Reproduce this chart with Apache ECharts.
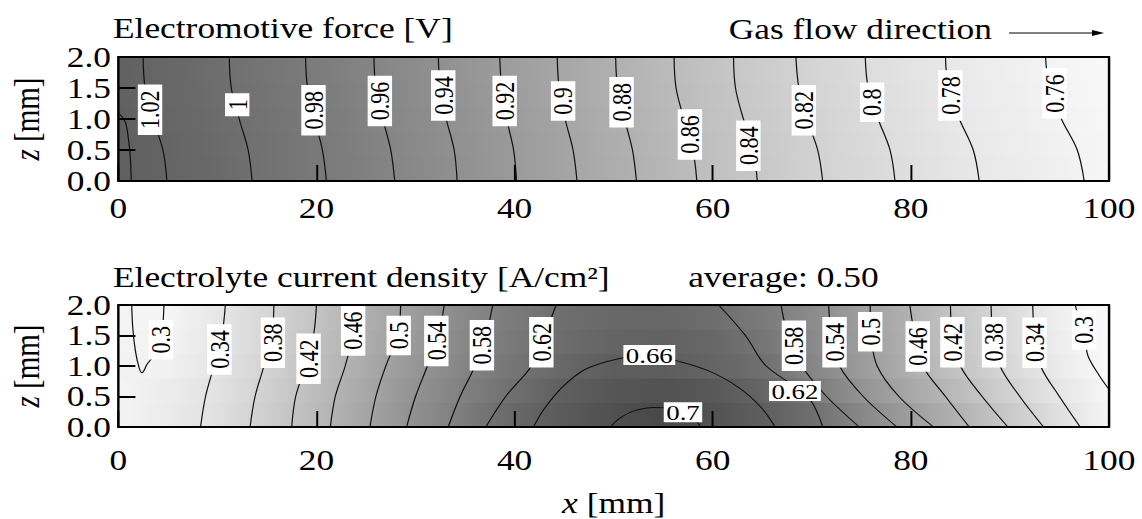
<!DOCTYPE html>
<html>
<head>
<meta charset="utf-8">
<title>Electromotive force and electrolyte current density</title>
<script src="https://cdn.jsdelivr.net/npm/echarts/dist/echarts.min.js"></script>
<style>
  html, body { margin: 0; padding: 0; background: #fff; overflow: hidden; }
  /* the figure is laid out at 936px and widened to 1142px, like the printed plot */
  #chart { width: 936px; height: 519px; transform: scale(1.22009, 1); transform-origin: 0 0; }
</style>
</head>
<body>
<div id="chart"></div>
<script>
// ---------- Electromotive force [V] (upper panel) ----------
const emfLevels = [1.02, 1.00, 0.98, 0.96, 0.94, 0.92, 0.90, 0.88, 0.86, 0.84, 0.82, 0.80, 0.78, 0.76];
const emfZ = [0, 0.5, 1.0, 1.5, 2.0];            // z [mm] where each contour's x is given
const emfX = [                                     // x [mm] of each contour at emfZ
  [4.9, 4.5, 3.5, 2.7, 2.5],
  [13.5, 13.1, 12.2, 11.4, 11.2],
  [21.0, 20.6, 19.8, 19.1, 18.9],
  [27.9, 27.5, 26.7, 26.0, 25.8],
  [34.2, 33.9, 33.1, 32.5, 32.3],
  [40.2, 39.9, 39.2, 38.7, 38.5],
  [46.3, 45.9, 45.1, 44.5, 44.3],
  [52.3, 51.9, 51.1, 50.4, 50.2],
  [58.4, 58.0, 57.1, 56.3, 56.1],
  [64.5, 64.1, 63.1, 62.3, 62.1],
  [71.1, 70.6, 69.5, 68.7, 68.4],
  [78.4, 77.9, 76.7, 75.7, 75.4],
  [86.9, 86.3, 84.9, 83.8, 83.5],
  [97.5, 96.8, 95.2, 94.0, 93.6]
];
const emfInletLevel = 1.04;                        // short contour at the inlet corner
const emfInlet = [[0, 1.1], [0.7, 0.95], [1.0, 0.7], [1.2, 0.4], [1.3, 0]];
const emfLabelAt = [                               // [x, z] of each contour label
  [3.2, 1.15], [12.0, 1.23], [19.7, 1.14], [26.4, 1.29], [32.8, 1.38], [39.0, 1.29], [44.9, 1.29],
  [50.8, 1.27], [57.7, 0.75], [63.6, 0.57], [69.2, 1.14], [76.1, 1.27], [84.0, 1.38], [94.5, 1.41]
];
// field used for the grey shading
const emfFieldX = [0, 5, 10, 15, 20, 25, 30, 35, 40, 45, 50, 55, 60, 65, 70, 75, 80, 85, 90, 95, 100];
const emfFieldZ = [0.2, 0.6, 1.0, 1.4, 1.8];
const emfField = [
  [1.042, 1.021, 1.009, 0.996, 0.983, 0.969, 0.953, 0.938, 0.921, 0.904, 0.887, 0.870, 0.853, 0.837, 0.822, 0.808, 0.795, 0.783, 0.773, 0.764, 0.754],
  [1.036, 1.020, 1.008, 0.995, 0.982, 0.968, 0.952, 0.937, 0.920, 0.903, 0.886, 0.869, 0.852, 0.836, 0.821, 0.807, 0.794, 0.782, 0.772, 0.763, 0.753],
  [1.030, 1.018, 1.006, 0.993, 0.980, 0.966, 0.950, 0.935, 0.918, 0.901, 0.884, 0.867, 0.850, 0.834, 0.819, 0.805, 0.792, 0.780, 0.770, 0.761, 0.751],
  [1.027, 1.016, 1.004, 0.991, 0.978, 0.964, 0.948, 0.933, 0.916, 0.899, 0.882, 0.865, 0.848, 0.832, 0.817, 0.803, 0.790, 0.778, 0.768, 0.759, 0.749],
  [1.026, 1.015, 1.003, 0.990, 0.977, 0.963, 0.947, 0.932, 0.915, 0.898, 0.881, 0.864, 0.847, 0.831, 0.816, 0.802, 0.789, 0.777, 0.767, 0.758, 0.748]
];

// ---------- Electrolyte current density [A/cm2] (lower panel) ----------
const jLevels = [0.34, 0.38, 0.42, 0.46, 0.50, 0.54, 0.58, 0.62,   // rising side
                 0.62, 0.58, 0.54, 0.50, 0.46, 0.42, 0.38, 0.34];  // falling side
const jZ = [0, 0.5, 1.0, 1.5, 2.0];
const jX = [
  [8.3, 8.8, 9.65, 10.45, 10.8],
  [13.3, 13.8, 14.7, 15.5, 15.7],
  [17.5, 17.9, 18.9, 19.7, 20.0],
  [21.4, 21.9, 22.9, 23.65, 24.0],
  [25.4, 26.0, 27.0, 28.2, 28.5],
  [29.1, 30.0, 31.2, 32.3, 32.9],
  [33.3, 34.5, 36.0, 37.1, 37.8],
  [37.1, 39.1, 41.7, 43.0, 44.2],
  [71.1, 69.6, 65.4, 63.3, 60.6],
  [74.8, 71.5, 69.0, 67.6, 66.9],
  [78.6, 75.2, 72.8, 72.0, 71.7],
  [82.3, 78.8, 76.6, 76.0, 75.9],
  [85.9, 83.5, 81.2, 80.4, 79.9],
  [89.8, 87.2, 85.0, 84.2, 84.0],
  [93.4, 91.0, 89.0, 88.3, 88.1],
  [97.1, 95.0, 93.1, 92.5, 92.3]
];
const jLabelAt = [                                 // [x, z, upright]
  [10.2, 1.27, 1], [15.6, 1.38, 1], [19.2, 1.12, 1], [23.7, 1.58, 1], [28.3, 1.50, 1], [32.1, 1.41, 1], [36.7, 1.34, 1], [42.7, 1.39, 1],
  [68.3, 0.59, 0], [68.2, 1.33, 1], [72.3, 1.39, 1], [75.9, 1.56, 1], [80.7, 1.32, 1], [84.2, 1.39, 1], [88.4, 1.39, 1], [92.5, 1.38, 1]
];
// closed / bent contours, as [x, z] points
const jInletLevel = 0.30;
const jInlet = [[1.35, 2.0], [1.46, 1.62], [1.73, 1.24], [2.1, 0.97], [2.4, 0.89], [2.9, 1.03], [3.5, 1.16], [4.3, 1.43], [4.5, 1.68], [4.6, 2.0]];
const jInletLabel = [4.3, 1.43, 1];
const jOutletLevel = 0.30;
const jOutlet = [[96.6, 2.0], [97.0, 1.75], [97.5, 1.5], [97.9, 1.16], [99.0, 0.85], [100, 0.62]];
const jOutletLabel = [97.5, 1.59, 1];
const jPeak1Level = 0.66;
const jPeak1 = [[41.9, 0], [43.0, 0.3], [44.8, 0.65], [47.2, 0.95], [50.5, 1.12], [53.6, 1.18], [56.5, 1.08], [59.6, 0.92], [62.6, 0.65], [64.9, 0.32], [66.3, 0]];
const jPeak1Label = [53.6, 1.18, 0];
const jPeak2Level = 0.70;
const jPeak2 = [[49.7, 0], [50.6, 0.14], [52.0, 0.26], [54.0, 0.32], [56.0, 0.30], [57.8, 0.18], [58.8, 0]];
const jPeak2Label = [57.0, 0.24, 0];
// field used for the grey shading
const jFieldX = [0, 5, 10, 15, 20, 25, 30, 35, 40, 45, 50, 55, 60, 65, 70, 75, 80, 85, 90, 95, 100];
const jFieldZ = [0.2, 0.6, 1.0, 1.4, 1.8];
const jField = [
  [0.305, 0.326, 0.352, 0.394, 0.444, 0.494, 0.545, 0.592, 0.638, 0.671, 0.695, 0.715, 0.688, 0.663, 0.624, 0.564, 0.510, 0.459, 0.407, 0.353, 0.303],
  [0.305, 0.324, 0.348, 0.390, 0.439, 0.488, 0.538, 0.582, 0.623, 0.663, 0.682, 0.690, 0.676, 0.646, 0.598, 0.537, 0.486, 0.439, 0.386, 0.337, 0.300],
  [0.310, 0.312, 0.343, 0.383, 0.431, 0.480, 0.529, 0.572, 0.608, 0.640, 0.664, 0.665, 0.648, 0.622, 0.569, 0.517, 0.470, 0.420, 0.370, 0.325, 0.286],
  [0.310, 0.305, 0.338, 0.377, 0.425, 0.473, 0.520, 0.564, 0.601, 0.630, 0.648, 0.652, 0.640, 0.608, 0.560, 0.511, 0.465, 0.414, 0.365, 0.321, 0.285],
  [0.305, 0.303, 0.336, 0.375, 0.421, 0.470, 0.515, 0.559, 0.596, 0.625, 0.638, 0.640, 0.627, 0.596, 0.556, 0.509, 0.461, 0.411, 0.363, 0.317, 0.274]
];

// ---------- drawing ----------
const FONT = '"Liberation Serif", "Times New Roman", serif';
const TICK_FONT = 29;

function greyScale(vLight, vDark, gLight, gDark) {
  return v => {
    let t = (v - vLight) / (vDark - vLight);
    t = Math.max(0, Math.min(1, t));
    const g = Math.round(gLight + t * (gDark - gLight));
    return 'rgb(' + g + ',' + g + ',' + g + ')';
  };
}
const emfGrey = greyScale(0.75, 1.03, 248, 95);
const jGrey = greyScale(0.29, 0.715, 250, 72);

function fmtLevel(v) { return String(Number(v.toFixed(2))); }

function shading(ax, fx, fz, field, grey) {
  const half = (fz[1] - fz[0]) / 2;
  const x0 = fx[0], x1 = fx[fx.length - 1];
  return {
    type: 'custom', xAxisIndex: ax, yAxisIndex: ax, silent: true, z: 1, clip: true,
    data: fz.map((z, i) => [x0, z, i]),
    renderItem(params, api) {
      const z = api.value(1), i = api.value(2);
      const a = api.coord([x0, z + half]);
      const b = api.coord([x1, z - half]);
      const stops = fx.map((x, k) => ({ offset: (x - x0) / (x1 - x0), color: grey(field[i][k]) }));
      return {
        type: 'rect',
        shape: { x: a[0], y: a[1] - 0.4, width: b[0] - a[0], height: b[1] - a[1] + 0.8 },
        style: { fill: new echarts.graphic.LinearGradient(0, 0, 1, 0, stops) }
      };
    }
  };
}

function contour(ax, pts, level) {
  return {
    type: 'line', name: fmtLevel(level), xAxisIndex: ax, yAxisIndex: ax, data: pts,
    smooth: 0.35, symbol: 'none', silent: true, clip: true, z: 3,
    lineStyle: { color: '#111', width: 1 }
  };
}

function contourLabels(ax, items) {
  return {
    type: 'scatter', xAxisIndex: ax, yAxisIndex: ax, silent: true, z: 5,
    symbolSize: 0.1, itemStyle: { color: 'rgba(0,0,0,0)', opacity: 1 },
    emphasis: { disabled: true },
    data: items.map(([x, z, level, upright]) => ({
      value: [x, z, level],
      label: upright ? { rotate: 90, padding: [0, 6] } : { rotate: 0, padding: [0, 2] }
    })),
    label: {
      show: true, position: 'inside', formatter: p => fmtLevel(p.value[2]),
      fontFamily: FONT, fontSize: 22, lineHeight: 20, color: '#000', opacity: 1,
      backgroundColor: '#ffffff'
    }
  };
}

const zip = (xs, zs) => xs.map((x, k) => [x, zs[k]]);

const series = [];
// upper panel
series.push(shading(0, emfFieldX, emfFieldZ, emfField, emfGrey));
series.push(contour(0, emfInlet, emfInletLevel));
emfLevels.forEach((lv, i) => series.push(contour(0, zip(emfX[i], emfZ), lv)));
series.push(contourLabels(0, emfLevels.map((lv, i) => [emfLabelAt[i][0], emfLabelAt[i][1], lv, 1])));
// lower panel
series.push(shading(2, jFieldX, jFieldZ, jField, jGrey));
jLevels.forEach((lv, i) => series.push(contour(2, zip(jX[i], jZ), lv)));
series.push(contour(2, jInlet, jInletLevel));
series.push(contour(2, jOutlet, jOutletLevel));
series.push(contour(2, jPeak1, jPeak1Level));
series.push(contour(2, jPeak2, jPeak2Level));
series.push(contourLabels(2, jLevels.map((lv, i) => [jLabelAt[i][0], jLabelAt[i][1], lv, jLabelAt[i][2]])
  .concat([
    [jInletLabel[0], jInletLabel[1], jInletLevel, jInletLabel[2]],
    [jOutletLabel[0], jOutletLabel[1], jOutletLevel, jOutletLabel[2]],
    [jPeak1Label[0], jPeak1Label[1], jPeak1Level, jPeak1Label[2]],
    [jPeak2Label[0], jPeak2Label[1], jPeak2Level, jPeak2Label[2]]
  ])));

const frame = { show: true, onZero: false, lineStyle: { color: '#000', width: 2 } };
const textBase = { fontFamily: FONT, fontSize: TICK_FONT, color: '#000' };

function xAxes(g, named, labelMargin) {
  return [
    {
      type: 'value', gridIndex: g, min: 0, max: 100, interval: 20, position: 'bottom', z: 10,
      axisLine: frame, splitLine: { show: false },
      axisTick: { show: true, inside: true, length: 16, lineStyle: { color: '#000', width: 1.6 } },
      axisLabel: Object.assign({ margin: labelMargin }, textBase),
      name: named ? '{i|x} [mm]' : '', nameLocation: 'middle', nameGap: 62,
      nameTextStyle: Object.assign({ rich: { i: Object.assign({ fontStyle: 'italic' }, textBase) } }, textBase)
    },
    {
      type: 'value', gridIndex: g, min: 0, max: 100, position: 'top', z: 10,
      axisLine: frame, axisTick: { show: false }, axisLabel: { show: false }, splitLine: { show: false }
    }
  ];
}
function yAxes(g) {
  return [
    {
      type: 'value', gridIndex: g, min: 0, max: 2, interval: 0.5, position: 'left', z: 10,
      axisLine: frame, splitLine: { show: false },
      axisTick: { show: true, inside: true, length: 14, lineStyle: { color: '#000', width: 2 } },
      axisLabel: Object.assign({ margin: 6, formatter: v => v.toFixed(1) }, textBase),
      name: '{i|z} [mm]', nameLocation: 'middle', nameGap: 60, nameRotate: 90,
      nameTextStyle: Object.assign({ rich: { i: Object.assign({ fontStyle: 'italic' }, textBase) } }, textBase)
    },
    {
      type: 'value', gridIndex: g, min: 0, max: 2, position: 'right', z: 10,
      axisLine: frame, axisTick: { show: false }, axisLabel: { show: false }, splitLine: { show: false }
    }
  ];
}

const headText = (x, y, text, align) => ({
  type: 'text', x, y, silent: true, z: 20,
  style: { text, fontFamily: FONT, fontSize: TICK_FONT, fill: '#000', align: align || 'left', verticalAlign: 'middle' }
});

const chart = echarts.init(document.getElementById('chart'), null, { renderer: 'svg' });
chart.setOption({
  animation: false,
  backgroundColor: '#fff',
  grid: [
    { left: 95.9, top: 57, width: 813, height: 124 },
    { left: 95.9, top: 305, width: 813, height: 124 }
  ],
  xAxis: xAxes(0, false, 13).concat(xAxes(1, true, 19)),
  yAxis: yAxes(0).concat(yAxes(1)),
  series,
  graphic: [
    headText(92.6, 28, 'Electromotive force [V]'),
    headText(813, 29, 'Gas flow direction', 'right'),
    { type: 'line', silent: true, z: 20, shape: { x1: 827, y1: 33, x2: 900, y2: 33 }, style: { stroke: '#000', lineWidth: 1.2 } },
    { type: 'polygon', silent: true, z: 20, shape: { points: [[905, 33], [895, 30], [895, 36]] }, style: { fill: '#000' } },
    headText(92.6, 277, 'Electrolyte current density [A/cm²]'),
    headText(564, 277, 'average: 0.50')
  ]
});
</script>
</body>
</html>
